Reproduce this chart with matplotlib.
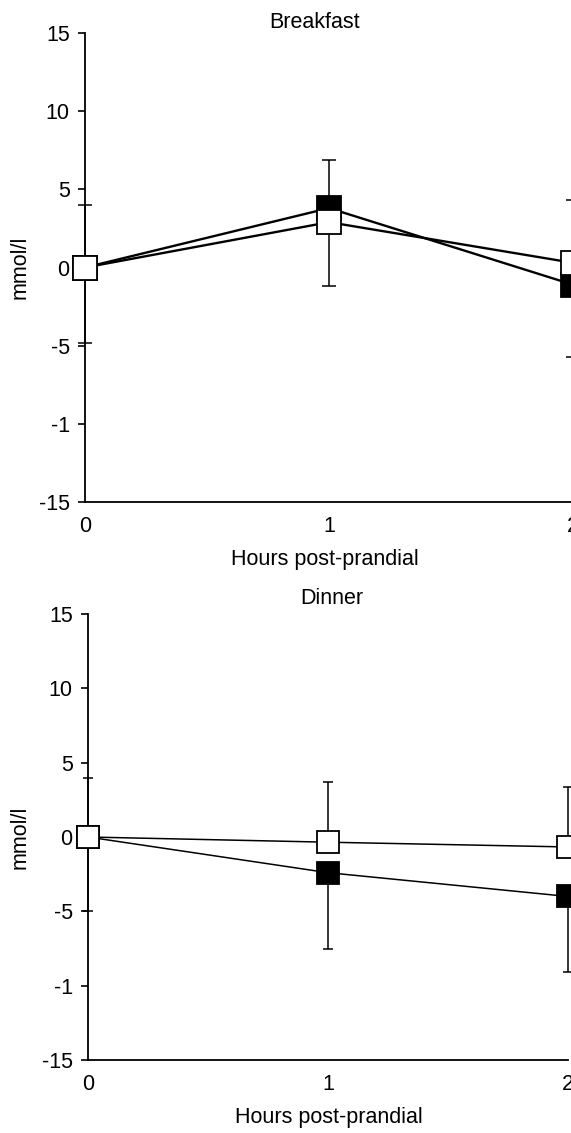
import matplotlib
matplotlib.use('Agg')
import matplotlib.pyplot as plt

plt.rcParams['font.family'] = ['Liberation Sans', 'DejaVu Sans']

hours = [0, 1, 2]
x_ticklabels = ['0', '1', '2']
y_ticks = [15, 10, 5, 0, -5, -10, -15]
y_ticklabels = ['15', '10', '5', '0', '-5', '-1', '-15']

# Breakfast (filled squares show the lower error bar, open ones the upper)
breakfast_filled = [0, 3.8, -1.1]
breakfast_filled_err = [4.8, 5.0, 4.6]
breakfast_open = [0, 2.9, 0.3]
breakfast_open_err = [4.0, 4.0, 4.0]

# Dinner
dinner_filled = [0, -2.4, -4.0]
dinner_filled_err = [5.0, 5.1, 5.1]
dinner_open = [0, -0.35, -0.67]
dinner_open_err = [4.0, 4.05, 4.0]

W, H = 571, 1133
fig = plt.figure(figsize=(W / 100, H / 100), dpi=100)


def px_axes(left, right, top, bottom):
    return fig.add_axes([left / W, 1 - bottom / H, (right - left) / W, (bottom - top) / H])


def draw_panel(ax, filled, filled_err, opened, opened_err, msize, lw, cap):
    zeros = [0] * len(hours)
    ax.errorbar(hours, filled, yerr=[filled_err, zeros], fmt='none', ecolor='black',
                elinewidth=1.1, capsize=cap, capthick=1.1, zorder=1, clip_on=False)
    ax.errorbar(hours, opened, yerr=[zeros, opened_err], fmt='none', ecolor='black',
                elinewidth=1.1, capsize=cap, capthick=1.1, zorder=1, clip_on=False)
    ax.plot(hours, filled, color='black', lw=lw, marker='s', ms=msize,
            mfc='black', mec='black', mew=1.3, zorder=2, clip_on=False)
    ax.plot(hours, opened, color='black', lw=lw, marker='s', ms=msize,
            mfc='white', mec='black', mew=1.3, zorder=3, clip_on=False)

    ax.set_xlim(0, 2)
    ax.set_ylim(-15, 15)
    ax.set_xticks(hours)
    ax.set_xticklabels(x_ticklabels)
    ax.set_yticks(y_ticks)
    ax.set_yticklabels(y_ticklabels)
    ax.spines['top'].set_visible(False)
    ax.spines['right'].set_visible(False)
    ax.spines['left'].set_linewidth(1.3)
    ax.spines['bottom'].set_linewidth(1.3)
    ax.tick_params(axis='y', length=5, width=1.2, pad=6, labelsize=15.5)
    ax.tick_params(axis='x', length=0, pad=10, labelsize=15.5)


ax1 = px_axes(85, 573, 33, 502)
draw_panel(ax1, breakfast_filled, breakfast_filled_err, breakfast_open, breakfast_open_err,
           17.5, 1.7, 4.8)

ax2 = px_axes(88, 568, 614, 1060)
draw_panel(ax2, dinner_filled, dinner_filled_err, dinner_open, dinner_open_err,
           15.5, 1.1, 3.8)

fs = 15.5
fig.text(315 / W, 1 - 22 / H, 'Breakfast', ha='center', va='center', fontsize=fs)
fig.text(325 / W, 1 - 560 / H, 'Hours post-prandial', ha='center', va='center', fontsize=fs)
fig.text(20 / W, 1 - 267 / H, 'mmol/l', ha='center', va='center', rotation=90, fontsize=fs)

fig.text(332 / W, 1 - 599 / H, 'Dinner', ha='center', va='center', fontsize=fs)
fig.text(329 / W, 1 - 1118 / H, 'Hours post-prandial', ha='center', va='center', fontsize=fs)
fig.text(20 / W, 1 - 837 / H, 'mmol/l', ha='center', va='center', rotation=90, fontsize=fs)

fig.savefig('out.png', dpi=100)
